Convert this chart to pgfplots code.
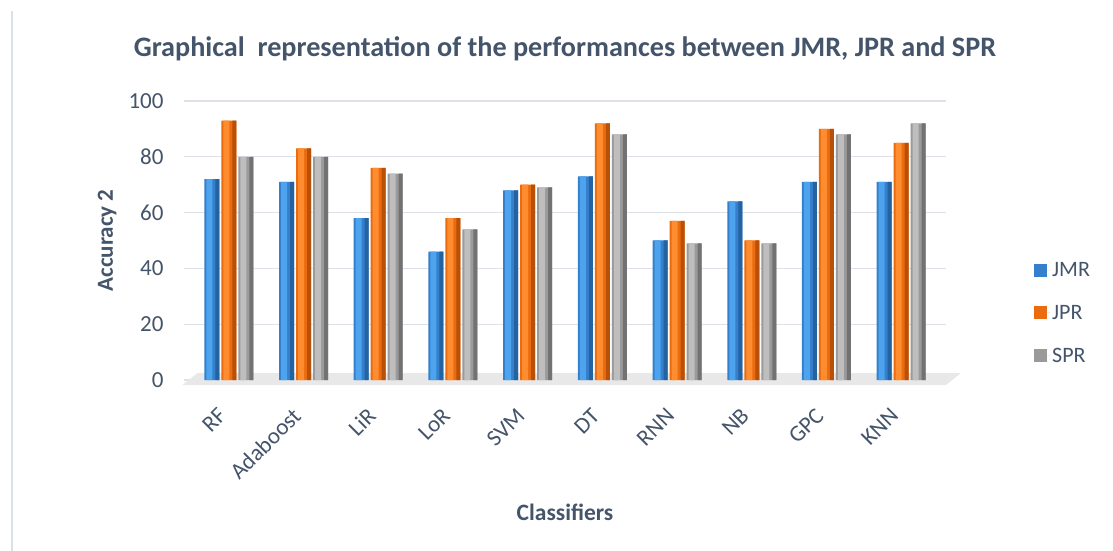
\documentclass[border=0pt]{standalone}
\usepackage{fontspec}
\setmainfont{Carlito}
\usepackage{pgfplots}
\usepackage{pgfplotstable}
\pgfplotsset{compat=1.18}

\definecolor{txt}{HTML}{44546A}
\definecolor{gridc}{HTML}{DEE1E8}
\definecolor{wallc}{HTML}{DCE1E8}
\definecolor{jmr}{HTML}{3580CC}
\definecolor{jmrL}{HTML}{4DA3EE}
\definecolor{jmrD}{HTML}{2562A0}
\definecolor{jpr}{HTML}{EB6C10}
\definecolor{jprL}{HTML}{FF8C2E}
\definecolor{jprD}{HTML}{B85008}
\definecolor{spr}{HTML}{9A9A9A}
\definecolor{sprL}{HTML}{BEBEBE}
\definecolor{sprD}{HTML}{727272}

\pgfplotstableread{
idx name JMR JPR SPR
0 RF 72 93 80
1 Adaboost 71 83 80
2 LiR 58 76 74
3 LoR 46 58 54
4 SVM 68 70 69
5 DT 73 92 88
6 RNN 50 57 49
7 NB 64 50 49
8 GPC 71 90 88
9 KNN 71 85 92
}\acc

\begin{document}
\begin{tikzpicture}
\path[use as bounding box] (0,0) rectangle (1113bp,551bp);
\draw[wallc, line width=1.5bp] (12bp,0bp) -- (12bp,540bp);
\begin{axis}[
    at={(184bp,171bp)}, anchor=south west,
    scale only axis, width=762bp, height=279bp,
    xmin=-0.6, xmax=9.6, ymin=0, ymax=100,
    clip=false,
    ybar, bar width=15bp,
    axis line style={draw=none},
    major tick style={draw=none},
    ytick={0,20,...,100},
    ymajorgrids, major grid style={gridc, line width=1.2bp},
    xtick=data,
    xticklabels from table={\acc}{name},
    /pgf/number format/assume math mode=true,
    tick label style={font=\fontsize{23bp}{27bp}\selectfont, text=txt},
    yticklabel style={anchor=east, xshift=-17bp},
    xticklabel style={rotate=45, anchor=east, xshift=-21bp, yshift=-15bp},
    title={Graphical\ \ representation of the performances between JMR, JPR and SPR},
    title style={at={(axis description cs:0.5,1)}, anchor=center, yshift=46bp,
        font=\fontsize{28.2bp}{33bp}\selectfont\bfseries, text=txt},
    ylabel={Accuracy 2},
    ylabel style={at={(axis description cs:-0.101,0.5)}, anchor=center, rotate=0,
        font=\fontsize{23bp}{27bp}\selectfont\bfseries, text=txt},
    xlabel={Classifiers},
    xlabel style={at={(axis description cs:0.5,-0.473)}, anchor=center,
        font=\fontsize{23.5bp}{28bp}\selectfont\bfseries, text=txt},
    legend style={at={(axis description cs:1.1155,0.24)}, anchor=west,
        draw=none, fill=none, inner sep=0pt, row sep=23bp,
        font=\fontsize{22bp}{26bp}\selectfont, text=txt},
    legend cell align=left,
    legend image code/.code={\path (0bp,0bp) -- (16bp,0bp);
        \fill[#1] (0bp,-6.5bp) rectangle (13bp,6.5bp);},
]
% floor slab
\fill[gray!18] (axis cs:-0.62,-1.8) -- (axis cs:9.6,-1.8) -- (axis cs:9.8,2.5) -- (axis cs:-0.42,2.5) -- cycle;
% base cylinders
\addplot[draw=none, fill=jmr, bar width=15bp, bar shift=-17bp] table[x=idx, y=JMR] {\acc};
\addlegendentry{JMR}
\addplot[draw=none, fill=jpr, bar width=15bp, bar shift=0bp] table[x=idx, y=JPR] {\acc};
\addlegendentry{JPR}
\addplot[draw=none, fill=spr, bar width=15bp, bar shift=17bp] table[x=idx, y=SPR] {\acc};
\addlegendentry{SPR}
% highlights
\addplot[forget plot, draw=none, fill=jmrL, bar width=6bp, bar shift=-19.5bp] table[x=idx, y=JMR] {\acc};
\addplot[forget plot, draw=none, fill=jprL, bar width=6bp, bar shift=-2.5bp] table[x=idx, y=JPR] {\acc};
\addplot[forget plot, draw=none, fill=sprL, bar width=6bp, bar shift=14.5bp] table[x=idx, y=SPR] {\acc};
% shaded right edges
\addplot[forget plot, draw=none, fill=jmrD, bar width=4bp, bar shift=-11.5bp] table[x=idx, y=JMR] {\acc};
\addplot[forget plot, draw=none, fill=jprD, bar width=4bp, bar shift=5.5bp] table[x=idx, y=JPR] {\acc};
\addplot[forget plot, draw=none, fill=sprD, bar width=4bp, bar shift=22.5bp] table[x=idx, y=SPR] {\acc};
\end{axis}
\end{tikzpicture}
\end{document}
